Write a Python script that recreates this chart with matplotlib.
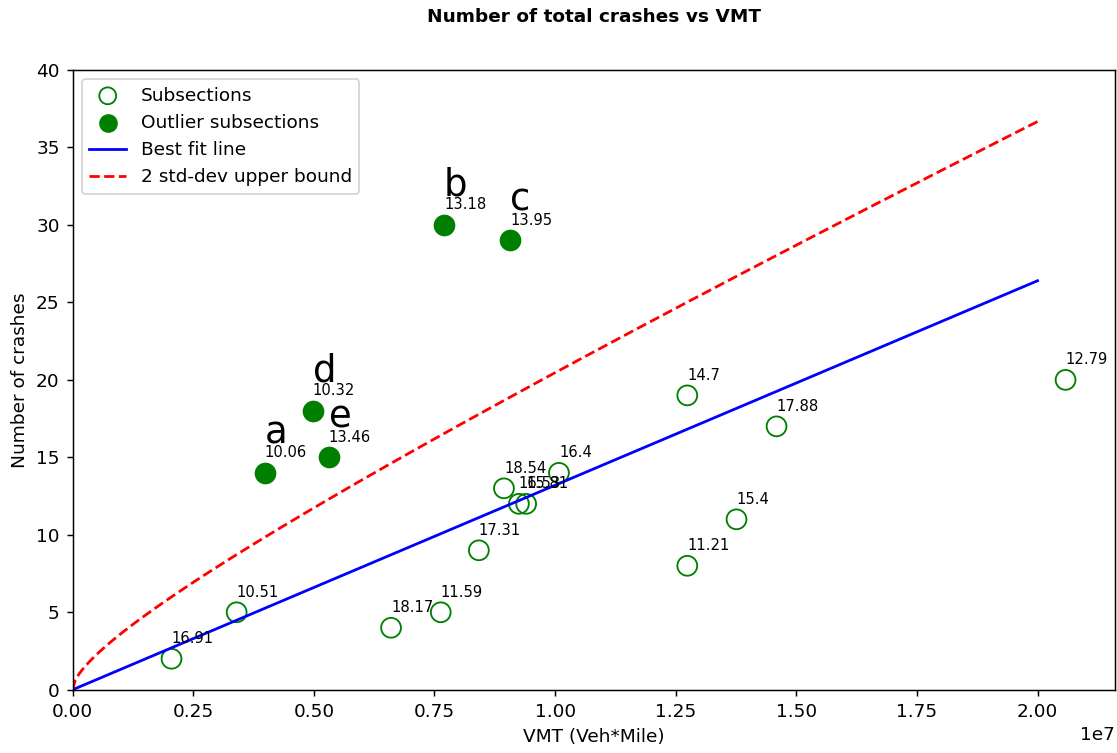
import numpy as np
import matplotlib.pyplot as plt

# subsecciones normales: vmt, choques, etiqueta
vmt = [2.05e6, 3.40e6, 6.60e6, 7.63e6, 8.42e6, 8.94e6, 9.25e6, 9.40e6,
       10.08e6, 12.74e6, 12.74e6, 13.76e6, 14.59e6, 20.58e6]
crashes = [2, 5, 4, 5, 9, 13, 12, 12, 14, 8, 19, 11, 17, 20]
labels = ["16.91", "10.51", "18.17", "11.59", "17.31", "18.54", "16.53", "15.81",
          "16.4", "11.21", "14.7", "15.4", "17.88", "12.79"]

# outliers
out_vmt = [3.98e6, 7.70e6, 9.07e6, 4.98e6, 5.31e6]
out_crashes = [14, 30, 29, 18, 15]
out_labels = ["10.06", "13.18", "13.95", "10.32", "13.46"]
out_letters = ["a", "b", "c", "d", "e"]

# recta de ajuste (choques por veh*milla)
slope = 1.32e-6
x_max = 2.0e7

fig = plt.figure(figsize=(1117 / 133, 753 / 133), dpi=133)
ax = fig.add_axes([0.065, 0.084, 0.933, 0.823])

ax.scatter(vmt, crashes, s=115, facecolors="none", edgecolors="green", label="Subsections")
ax.scatter(out_vmt, out_crashes, s=115, color="green", label="Outlier subsections")

xs = np.linspace(0, x_max, 400)
fit = slope * xs
ax.plot(xs, fit, color="blue", label="Best fit line")
ax.plot(xs, fit + 2 * np.sqrt(fit), "r--", label="2 std-dev upper bound")

for i in range(len(vmt)):
    ax.annotate(labels[i], (vmt[i], crashes[i]), xytext=(0, 8.5), textcoords="offset points", fontsize=8)
for i in range(len(out_vmt)):
    ax.annotate(out_labels[i], (out_vmt[i], out_crashes[i]), xytext=(0, 8.5), textcoords="offset points", fontsize=8)
    ax.annotate(out_letters[i], (out_vmt[i], out_crashes[i]), xytext=(0, 16), textcoords="offset points", fontsize=20)

ax.set_xlim(0, 2.16e7)
ax.set_ylim(0, 40)
ax.set_xlabel("VMT (Veh*Mile)")
ax.set_ylabel("Number of crashes")
ax.legend(loc="upper left", markerscale=0.85)
fig.suptitle("Number of total crashes vs VMT", fontweight="bold", fontsize=10, x=0.532, y=0.99)

plt.savefig("out.png")
